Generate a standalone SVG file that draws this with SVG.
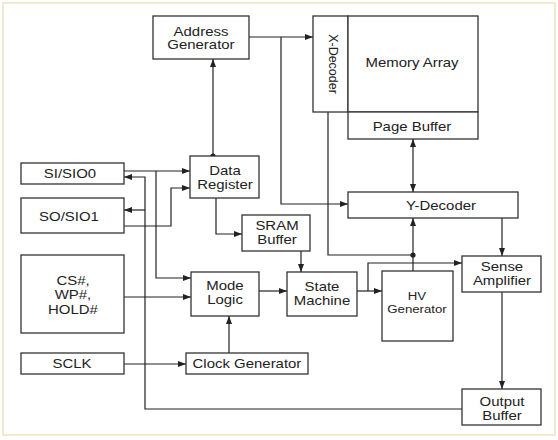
<svg xmlns="http://www.w3.org/2000/svg" width="558" height="440" viewBox="0 0 558 440">
<style>
.box{fill:#fff;stroke:#333;stroke-width:1.3}
.t{font-family:"Liberation Sans",Arial,sans-serif;font-size:13px;fill:#222;text-anchor:middle;transform-box:fill-box;transform-origin:center;transform:scaleX(1.15)}
.s{font-size:11.5px}
.w{fill:none;stroke:#222;stroke-width:1.2}
.r{font-family:"Liberation Sans",Arial,sans-serif;font-size:12.5px;fill:#222;text-anchor:middle}
</style>
<defs>
<marker id="a" viewBox="0 0 8 6" refX="8" refY="3" markerWidth="8" markerHeight="6" orient="auto-start-reverse" markerUnits="userSpaceOnUse">
<path d="M0,0 L8,3 L0,6 Z" fill="#222"/>
</marker>
</defs>
<rect x="0" y="0" width="558" height="440" fill="#fff"/>
<rect x="3" y="3" width="552" height="432" fill="none" stroke="#f0e8cf" stroke-width="2"/>

<g id="connectors">
<path class="w" d="M249,37 H313" marker-end="url(#a)"/>
<path class="w" d="M281,37 V204 H348" marker-end="url(#a)"/>
<path class="w" d="M213,156 V59" marker-end="url(#a)"/>
<circle cx="213" cy="156" r="2.6" fill="#222"/>
<path class="w" d="M413,139 V192" marker-start="url(#a)" marker-end="url(#a)"/>
<path class="w" d="M328,112 V255 H413"/>
<path class="w" d="M413,271 V218" marker-end="url(#a)"/>
<circle cx="413" cy="255" r="2.6" fill="#222"/>
<path class="w" d="M502,218 V256" marker-end="url(#a)"/>
<path class="w" d="M502,292 V389" marker-end="url(#a)"/>
<path class="w" d="M462,409 H145 V177 H124" marker-end="url(#a)"/>
<path class="w" d="M145,210 H124" marker-end="url(#a)"/>
<path class="w" d="M124,171 H190" marker-end="url(#a)"/>
<path class="w" d="M156,171 V278 H191" marker-end="url(#a)"/>
<path class="w" d="M124,226 H171 V188 H190" marker-end="url(#a)"/>
<path class="w" d="M216,198 V234 H242" marker-end="url(#a)"/>
<path class="w" d="M301,251 V272" marker-end="url(#a)"/>
<path class="w" d="M124,297 H191" marker-end="url(#a)"/>
<path class="w" d="M259,291 H287" marker-end="url(#a)"/>
<path class="w" d="M357,291 H382" marker-end="url(#a)"/>
<path class="w" d="M368,291 V263 H462" marker-end="url(#a)"/>
<path class="w" d="M124,364 H186" marker-end="url(#a)"/>
<path class="w" d="M229,353 V316" marker-end="url(#a)"/>
</g>

<g id="address-generator">
<rect class="box" x="153" y="16" width="96" height="43"/>
<text class="t" x="201" y="36">Address</text>
<text class="t" x="201" y="49.5">Generator</text>
</g>
<g id="x-decoder">
<rect class="box" x="313" y="16" width="35" height="96"/>
<text class="r" transform="translate(328.5,64) rotate(90)">X-Decoder</text>
</g>
<g id="memory-array">
<rect class="box" x="348" y="16" width="130" height="96"/>
<text class="t" x="412" y="67.5">Memory Array</text>
</g>
<g id="page-buffer">
<rect class="box" x="348" y="112" width="130" height="27"/>
<text class="t" x="412" y="131">Page Buffer</text>
</g>
<g id="y-decoder">
<rect class="box" x="348" y="192" width="170" height="26"/>
<text class="t" x="441" y="210.5">Y-Decoder</text>
</g>
<g id="si-sio0">
<rect class="box" x="21" y="163" width="103" height="21"/>
<text class="t" x="70" y="178">SI/SIO0</text>
</g>
<g id="so-sio1">
<rect class="box" x="21" y="198" width="103" height="35"/>
<text class="t" x="69" y="221.5">SO/SIO1</text>
</g>
<g id="data-register">
<rect class="box" x="190" y="156" width="69" height="42"/>
<text class="t" x="225" y="175">Data</text>
<text class="t" x="225" y="189">Register</text>
</g>
<g id="sram-buffer">
<rect class="box" x="242" y="215" width="68" height="36"/>
<text class="t" x="277" y="230.5">SRAM</text>
<text class="t" x="277" y="244.5">Buffer</text>
</g>
<g id="cs-wp-hold">
<rect class="box" x="21" y="255" width="103" height="78"/>
<text class="t" x="73" y="285">CS#,</text>
<text class="t" x="73" y="299.5">WP#,</text>
<text class="t" x="73" y="314">HOLD#</text>
</g>
<g id="mode-logic">
<rect class="box" x="191" y="272" width="68" height="44"/>
<text class="t" x="225" y="290.5">Mode</text>
<text class="t" x="225" y="304.5">Logic</text>
</g>
<g id="state-machine">
<rect class="box" x="287" y="272" width="70" height="44"/>
<text class="t" x="322" y="291">State</text>
<text class="t" x="322" y="305">Machine</text>
</g>
<g id="hv-generator">
<rect class="box" x="382" y="271" width="71" height="70"/>
<text class="t s" x="417" y="300.5">HV</text>
<text class="t s" x="417" y="313">Generator</text>
</g>
<g id="sense-amplifier">
<rect class="box" x="462" y="256" width="79" height="36"/>
<text class="t" x="502" y="271.5">Sense</text>
<text class="t" x="502" y="285">Amplifier</text>
</g>
<g id="sclk">
<rect class="box" x="21" y="353" width="103" height="21"/>
<text class="t" x="72" y="368">SCLK</text>
</g>
<g id="clock-generator">
<rect class="box" x="186" y="353" width="122" height="21"/>
<text class="t" x="247" y="368">Clock Generator</text>
</g>
<g id="output-buffer">
<rect class="box" x="462" y="389" width="79" height="36"/>
<text class="t" x="502" y="406">Output</text>
<text class="t" x="502" y="420">Buffer</text>
</g>
</svg>
